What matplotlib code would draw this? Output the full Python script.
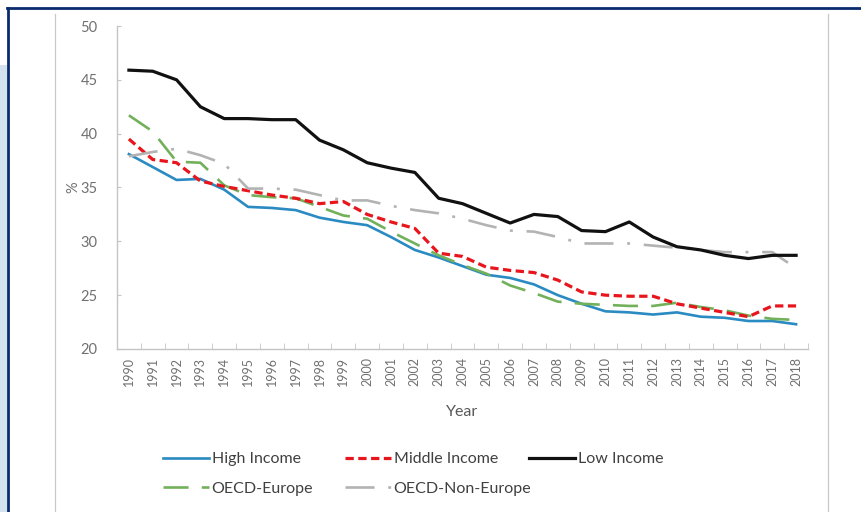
import numpy as np
import matplotlib.pyplot as plt
from matplotlib.lines import Line2D
from matplotlib.patches import Rectangle
from matplotlib.ticker import FixedLocator, NullFormatter

plt.rcParams['font.family'] = ['Lato', 'DejaVu Sans']

years = [str(y) for y in range(1990, 2019)]

high_income = [38.1, 36.9, 35.7, 35.8, 34.8, 33.2, 33.1, 32.9, 32.2, 31.8,
               31.5, 30.4, 29.2, 28.5, 27.7, 26.9, 26.6, 26.0, 25.0, 24.2,
               23.5, 23.4, 23.2, 23.4, 23.0, 22.9, 22.6, 22.6, 22.3]
middle_income = [39.5, 37.6, 37.3, 35.6, 35.1, 34.7, 34.3, 34.0, 33.5, 33.7,
                 32.5, 31.8, 31.2, 28.9, 28.6, 27.6, 27.3, 27.1, 26.4, 25.3,
                 25.0, 24.9, 24.9, 24.2, 23.8, 23.4, 23.0, 24.0, 24.0]
low_income = [45.9, 45.8, 45.0, 42.5, 41.4, 41.4, 41.3, 41.3, 39.4, 38.5,
              37.3, 36.8, 36.4, 34.0, 33.5, 32.6, 31.7, 32.5, 32.3, 31.0,
              30.9, 31.8, 30.4, 29.5, 29.2, 28.7, 28.4, 28.7, 28.7]
oecd_europe = [41.7, 40.2, 37.4, 37.3, 35.2, 34.3, 34.1, 34.0, 33.2, 32.4,
               32.1, 30.9, 29.8, 28.7, 27.8, 27.0, 25.9, 25.2, 24.4, 24.2,
               24.1, 24.0, 24.0, 24.3, 23.9, 23.6, 23.1, 22.8, 22.7]
oecd_non_europe = [37.9, 38.3, 38.6, 38.0, 37.2, 34.9, 34.9, 34.8, 34.3, 33.8,
                   33.8, 33.3, 32.9, 32.6, 32.1, 31.5, 31.0, 30.9, 30.4, 29.8,
                   29.8, 29.8, 29.6, 29.4, 29.2, 29.0, 29.0, 29.0, 27.5]

W, H = 862, 512
fig = plt.figure(figsize=(W / 100, H / 100), dpi=100)

# page decorations around the chart image
fig.add_artist(Rectangle((0, 0), 7 / W, 1 - 65 / H, transform=fig.transFigure,
                         facecolor='#d3e2ee', edgecolor='none'))
fig.add_artist(Line2D([8 / W, 8 / W], [0, 1 - 8 / H], transform=fig.transFigure,
                      color='#0a2a6e', lw=2))
fig.add_artist(Line2D([7 / W, 1], [1 - 8 / H, 1 - 8 / H], transform=fig.transFigure,
                      color='#0a2a6e', lw=2))
for xp in (55, 828):
    fig.add_artist(Line2D([xp / W, xp / W], [0, 1 - 14 / H], transform=fig.transFigure,
                          color='#c8c8c8', lw=0.9))

ax = fig.add_axes([117 / W, 1 - 349 / H, (808 - 117) / W, (349 - 26) / H])
x = np.arange(len(years))

h_high, = ax.plot(x, high_income, color='#2a8ac2', lw=1.9)
h_eu, = ax.plot(x, oecd_europe, color='#72b05a', lw=1.9, linestyle=(0, (9.5, 5)))
h_mid, = ax.plot(x, middle_income, color='#e8161c', lw=2.3, linestyle=(0, (2.6, 1.4)))
h_neu, = ax.plot(x, oecd_non_europe, color='#b3b3b3', lw=1.9,
                 linestyle=(0, (11, 5.2, 1.1, 5.2)))
h_low, = ax.plot(x, low_income, color='#111111', lw=2.3)

ax.set_xlim(-0.5, len(years) - 0.5)
ax.set_ylim(20, 50)
ax.set_yticks(range(20, 51, 5))
ax.set_xticks(x)
ax.set_xticklabels(years, rotation=90)
ax.xaxis.set_minor_locator(FixedLocator(np.arange(-0.5, len(years), 1)))
ax.xaxis.set_minor_formatter(NullFormatter())

for side in ('top', 'right'):
    ax.spines[side].set_visible(False)
for side in ('left', 'bottom'):
    ax.spines[side].set_color('#c4c4c4')
    ax.spines[side].set_linewidth(1.0)

ax.tick_params(axis='y', direction='in', length=3, color='#c4c4c4',
               labelcolor='#707070', labelsize=10.5, pad=14)
ax.tick_params(axis='x', which='major', length=0, labelcolor='#707070',
               labelsize=9, pad=6)
ax.tick_params(axis='x', which='minor', direction='in', length=4, color='#c4c4c4')

ax.set_xlabel('Year', color='#595959', fontsize=11.5, labelpad=13)
ax.set_ylabel('%', color='#707070', fontsize=10.5, labelpad=0)

# legend laid out in three columns like the original
columns = [
    (163, [h_high, h_eu], ['High Income', 'OECD-Europe']),
    (345, [h_mid, h_neu], ['Middle Income', 'OECD-Non-Europe']),
    (529, [h_low], ['Low Income']),
]
for xpos, handles, labels in columns:
    leg = fig.legend(handles, labels, loc='upper left',
                     bbox_to_anchor=(xpos / W, 1 - 452 / H), frameon=False,
                     fontsize=11.5, handlelength=2.9, handletextpad=0.15,
                     labelspacing=0.98, borderpad=0, borderaxespad=0)
    for t in leg.get_texts():
        t.set_color('#404040')

fig.savefig('out.png', dpi=100)
